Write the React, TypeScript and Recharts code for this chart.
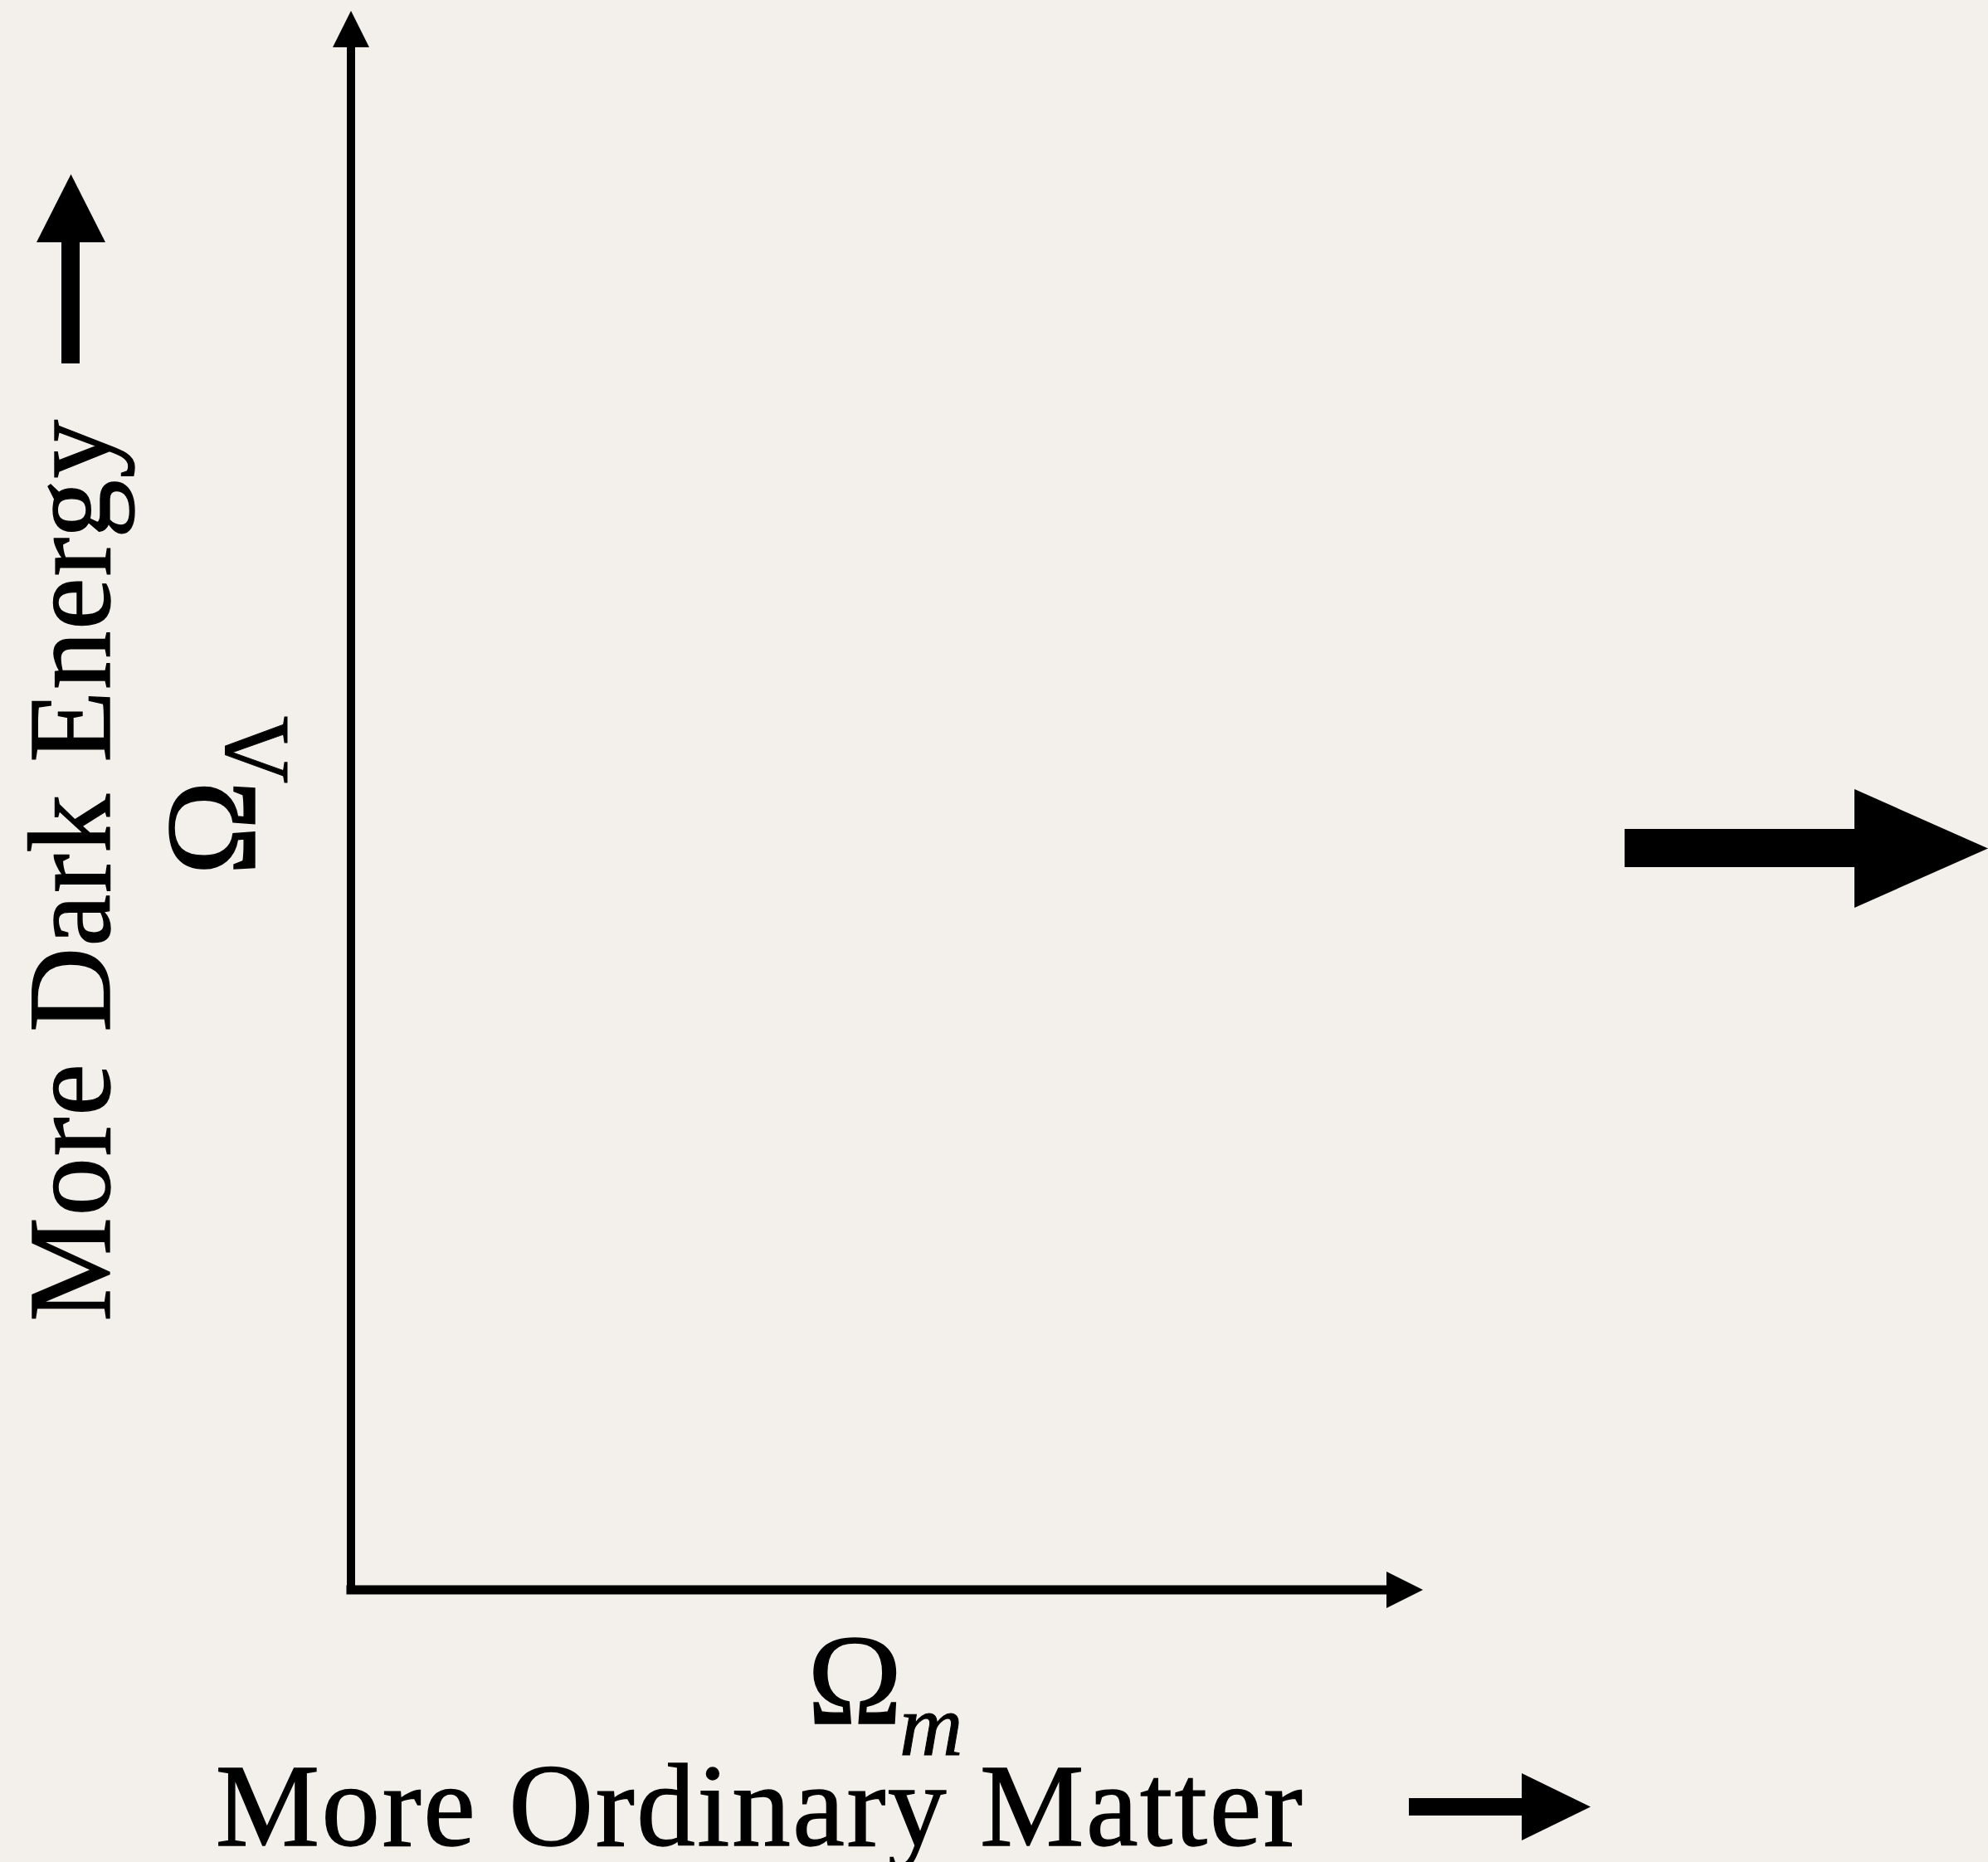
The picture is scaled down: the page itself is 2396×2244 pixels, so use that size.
import React from "react";
import { ComposedChart, XAxis, YAxis, Scatter, Label } from "recharts";

// ---- data (the reference is an empty schematic diagram: no data points) ----
const xDomain: [number, number] = [0, 1];
const yDomain: [number, number] = [0, 1];
const points: { x: number; y: number }[] = [];
const xAxisTitle = "More Ordinary Matter";
const yAxisTitle = "More Dark Energy";
const xSymbol = "Ω";
const xSubscript = "m";
const ySymbol = "Ω";
const ySubscript = "Λ";

const W = 2396;
const H = 2244;
const BG = "#f3efea";
const INK = "#000000";
const FONT = "'Liberation Serif', 'Times New Roman', serif";
const EMB = 1.4; // slight emboldening stroke

const renderXLabel = (props: any) => {
  const vb = props.viewBox || { x: 423, y: 1916, width: 1248, height: 30 };
  const ex = vb.x + vb.width; // end of x axis
  const ey = vb.y;
  return (
    <g>
      {/* axis arrowhead */}
      <polygon points={`${ex},${ey - 22} ${ex + 44},${ey} ${ex},${ey + 22}`} fill={INK} />
      <text x={973} y={2077} fontFamily={FONT} fontSize={154} fill={INK} stroke={INK} strokeWidth={EMB}>
        {xSymbol}
      </text>
      <text x={1084} y={2115} fontFamily={FONT} fontStyle="italic" fontSize={106} fill={INK} stroke={INK} strokeWidth={EMB * 0.7}>
        {xSubscript}
      </text>
      <text
        x={916}
        y={2224}
        textAnchor="middle"
        fontFamily={FONT}
        fontSize={141}
        letterSpacing={2.6}
        fill={INK}
        stroke={INK}
        strokeWidth={EMB}
      >
        {xAxisTitle}
      </text>
      {/* decorative arrow after the x title */}
      <rect x={1698} y={2167} width={136} height={21} fill={INK} />
      <polygon points="1834,2137 1834,2218 1917,2177.5" fill={INK} />
      {/* large decorative arrow at right */}
      <rect x={1958} y={999} width={277} height={46} fill={INK} />
      <polygon points="2235,951 2235,1094 2396,1022.5" fill={INK} />
    </g>
  );
};

const renderYLabel = (props: any) => {
  const vb = props.viewBox || { x: 363, y: 57, width: 60, height: 1859 };
  const ax = vb.x + vb.width; // y axis position
  const ay = vb.y; // top of y axis
  return (
    <g>
      {/* axis arrowhead */}
      <polygon points={`${ax - 22},${ay} ${ax + 22},${ay} ${ax},${ay - 44}`} fill={INK} />
      <text
        transform="translate(132,1048.5) rotate(-90)"
        textAnchor="middle"
        fontFamily={FONT}
        fontSize={141}
        letterSpacing={1.6}
        fill={INK}
        stroke={INK}
        strokeWidth={EMB}
      >
        {yAxisTitle}
      </text>
      <text
        transform="translate(307,1055) rotate(-90)"
        fontFamily={FONT}
        fontSize={154}
        fill={INK}
        stroke={INK}
        strokeWidth={EMB}
      >
        {ySymbol}
      </text>
      <text
        transform="translate(346,944) rotate(-90)"
        fontFamily={FONT}
        fontSize={112}
        fill={INK}
        stroke={INK}
        strokeWidth={EMB * 0.7}
      >
        {ySubscript}
      </text>
      {/* decorative arrow above the y title */}
      <rect x={74} y={292} width={22} height={146} fill={INK} />
      <polygon points="44,292 127,292 85.5,210" fill={INK} />
    </g>
  );
};

export default function App() {
  return (
    <div style={{ position: "absolute", left: 0, top: 0, width: W, height: H, background: BG }}>
      <ComposedChart
        width={W}
        height={H}
        data={points}
        margin={{ top: 57, right: W - 1671, bottom: 298, left: 363 }}
      >
        <XAxis
          type="number"
          dataKey="x"
          domain={xDomain}
          height={30}
          tick={false}
          tickLine={false}
          axisLine={{ stroke: INK, strokeWidth: 11, strokeLinecap: "square" }}
        >
          <Label content={renderXLabel} />
        </XAxis>
        <YAxis
          type="number"
          dataKey="y"
          domain={yDomain}
          width={60}
          tick={false}
          tickLine={false}
          axisLine={{ stroke: INK, strokeWidth: 10, strokeLinecap: "butt" }}
        >
          <Label content={renderYLabel} />
        </YAxis>
        <Scatter data={points} fill={INK} isAnimationActive={false} />
      </ComposedChart>
    </div>
  );
}
